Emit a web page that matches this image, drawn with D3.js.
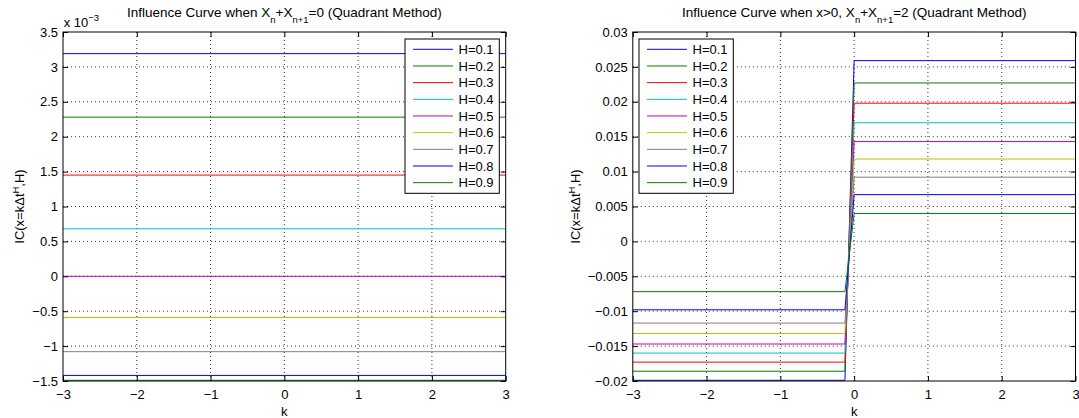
<!DOCTYPE html>
<html>
<head>
<meta charset="utf-8">
<script src="https://cdn.jsdelivr.net/npm/d3@7"></script>
<style>
  body { margin: 0; background: #fff; }
  svg { font-family: "Liberation Sans", Arial, Helvetica, sans-serif; }
</style>
</head>
<body>
<svg id="chart" width="1079" height="418"></svg>
<script>
// values
var H = [0.1, 0.2, 0.3, 0.4, 0.5, 0.6, 0.7, 0.8, 0.9];
var lineColors = ["#0000ff", "#008000", "#ff0000", "#00bfbf", "#bf00bf", "#bfbf00", "#808080", "#0000ff", "#008000"];

var kTicks = [-3, -2, -1, 0, 1, 2, 3];
var kTickLabels = ["\u22123", "\u22122", "\u22121", "0", "1", "2", "3"];

// left panel: X_n + X_n+1 = 0, flat curves (units of 1e-3)
var leftK = [-3, 3];
var leftIC = [3.19, 2.28, 1.45, 0.68, 0.0, -0.59, -1.08, -1.42, -1.49];
var leftTicks = [-1.5, -1, -0.5, 0, 0.5, 1, 1.5, 2, 2.5, 3, 3.5];
var leftTickLabels = ["\u22121.5", "\u22121", "\u22120.5", "0", "0.5", "1", "1.5", "2", "2.5", "3", "3.5"];

// right panel: x>0, X_n + X_n+1 = 2, step between k=-0.125 and k=0
var rightK = [-3, -0.125, 0, 3];
var rightBefore = [-0.0199, -0.0186, -0.0173, -0.0160, -0.0147, -0.0132, -0.0117, -0.0098, -0.0072];
var rightAfter = [0.0259, 0.0227, 0.0198, 0.0170, 0.0143, 0.0118, 0.0092, 0.0067, 0.0040];
var rightTicks = [-0.02, -0.015, -0.01, -0.005, 0, 0.005, 0.01, 0.015, 0.02, 0.025, 0.03];
var rightTickLabels = ["\u22120.02", "\u22120.015", "\u22120.01", "\u22120.005", "0", "0.005", "0.01", "0.015", "0.02", "0.025", "0.03"];

var svg = d3.select("#chart");
var plotTop = 32, h = 349, w = 442.7;

function panel(o) {
  var g = svg.append("g").attr("transform", "translate(" + o.left + "," + plotTop + ")");
  var x = d3.scaleLinear().domain([-3, 3]).range([0, w]);
  var y = d3.scaleLinear().domain([o.yTicks[0], o.yTicks[o.yTicks.length - 1]]).range([h, 0]);

  g.append("clipPath").attr("id", o.id + "clip")
    .append("rect").attr("width", w).attr("height", h);

  // dotted grid
  var grid = g.append("g").attr("stroke", "#333").attr("stroke-width", 1).attr("stroke-dasharray", "1,3");
  grid.selectAll(".vx").data(kTicks.slice(1, -1)).enter().append("line")
    .attr("x1", d => x(d)).attr("x2", d => x(d)).attr("y1", 0).attr("y2", h);
  grid.selectAll(".hy").data(o.yTicks.slice(1, -1)).enter().append("line")
    .attr("y1", d => y(d)).attr("y2", d => y(d)).attr("x1", 0).attr("x2", w);

  // curves
  var line = d3.line().x(d => x(d[0])).y(d => y(d[1]));
  g.append("g").attr("clip-path", "url(#" + o.id + "clip)")
    .selectAll("path").data(o.series).enter().append("path")
    .attr("d", line)
    .attr("fill", "none")
    .attr("stroke", (d, i) => lineColors[i])
    .attr("stroke-width", 1);

  // axes, ticks pointing inward on all four sides
  var fs = "13px";
  var bx = g.append("g").attr("transform", "translate(0," + h + ")")
    .call(d3.axisBottom(x).tickValues(kTicks).tickFormat((d, i) => kTickLabels[i])
      .tickSizeInner(-5).tickSizeOuter(0).tickPadding(9));
  var ly = g.append("g")
    .call(d3.axisLeft(y).tickValues(o.yTicks).tickFormat((d, i) => o.yLabels[i])
      .tickSizeInner(-5).tickSizeOuter(0).tickPadding(5));
  var tx = g.append("g")
    .call(d3.axisTop(x).tickValues(kTicks).tickFormat("").tickSizeInner(-5).tickSizeOuter(0));
  var ry = g.append("g").attr("transform", "translate(" + w + ",0)")
    .call(d3.axisRight(y).tickValues(o.yTicks).tickFormat("").tickSizeInner(-5).tickSizeOuter(0));
  [bx, ly, tx, ry].forEach(a => {
    a.select(".domain").remove();
    a.selectAll("text").attr("font-size", fs).attr("fill", "#000");
    a.selectAll("line").attr("stroke", "#000");
  });
  bx.attr("font-family", null); ly.attr("font-family", null);
  tx.attr("font-family", null); ry.attr("font-family", null);

  g.append("rect").attr("width", w).attr("height", h)
    .attr("fill", "none").attr("stroke", "#000").attr("stroke-width", 1);

  // title
  var t = svg.append("text").attr("x", o.left + w / 2).attr("y", 16.5)
    .attr("text-anchor", "middle").attr("font-size", "13.5px");
  o.title.forEach(p => {
    var s = t.append("tspan").text(p[0]);
    if (p[1] === "sub") s.attr("font-size", "9.5px").attr("dy", 6);
    if (p[1] === "back") s.attr("dy", -6);
  });

  // x label
  svg.append("text").attr("x", o.left + w / 2).attr("y", 416)
    .attr("text-anchor", "middle").attr("font-size", fs).text("k");

  // y label
  var yl = svg.append("text")
    .attr("transform", "translate(" + o.ylabelX + "," + (plotTop + h / 2) + ") rotate(-90)")
    .attr("text-anchor", "middle").attr("font-size", fs);
  yl.append("tspan").text("IC(x=k\u0394t");
  yl.append("tspan").text("H").attr("font-size", "9.5px").attr("dy", -5);
  yl.append("tspan").text(",H)").attr("dy", 5);

  // legend
  var lg = g.append("g").attr("transform", "translate(" + o.legendX + ",7)");
  lg.append("rect").attr("width", 94.3).attr("height", 154.3)
    .attr("fill", "#fff").attr("stroke", "#000").attr("stroke-width", 1);
  var rows = lg.selectAll(".row").data(H).enter().append("g")
    .attr("transform", (d, i) => "translate(0," + (10.3 + i * 16.67) + ")");
  rows.append("line").attr("x1", 8).attr("x2", 48).attr("y1", 0).attr("y2", 0)
    .attr("stroke", (d, i) => lineColors[i]).attr("stroke-width", 1);
  rows.append("text").attr("x", 53.5).attr("y", 4.7).attr("font-size", fs)
    .text(d => "H=" + d);

  return g;
}

panel({
  id: "left", left: 63, ylabelX: 23.5,
  yTicks: leftTicks, yLabels: leftTickLabels,
  series: leftIC.map(v => leftK.map(k => [k, v])),
  legendX: w - 6.4 - 94.3,
  title: [["Influence Curve when X"], ["n", "sub"], ["+X", "back"], ["n+1", "sub"], ["=0 (Quadrant Method)", "back"]]
});

// exponent label of the left y axis
var ex = svg.append("text").attr("x", 63.7).attr("y", 26.5).attr("font-size", "13px");
ex.append("tspan").text("x 10");
ex.append("tspan").text("\u22123").attr("font-size", "9.5px").attr("dy", -6);

panel({
  id: "right", left: 632.8, ylabelX: 579.5,
  yTicks: rightTicks, yLabels: rightTickLabels,
  series: rightBefore.map((v, i) => rightK.map(k => [k, k < 0 ? v : rightAfter[i]])),
  legendX: 6.2,
  title: [["Influence Curve when x>0, X"], ["n", "sub"], ["+X", "back"], ["n+1", "sub"], ["=2 (Quadrant Method)", "back"]]
});
</script>
</body>
</html>
